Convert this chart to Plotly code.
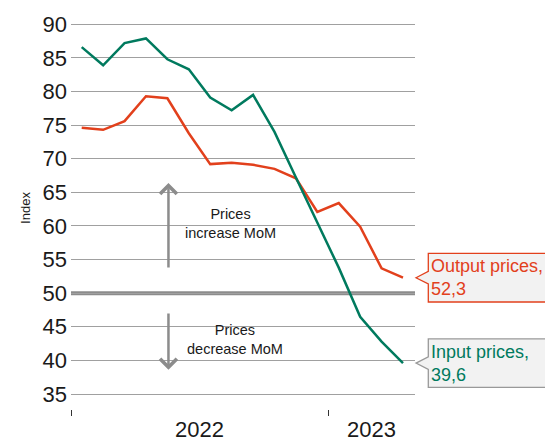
import plotly.graph_objects as go

# monthly index values, Jan 2022 - Apr 2023
months = ["2022-01", "2022-02", "2022-03", "2022-04", "2022-05", "2022-06",
          "2022-07", "2022-08", "2022-09", "2022-10", "2022-11", "2022-12",
          "2023-01", "2023-02", "2023-03", "2023-04"]
input_prices = [86.6, 83.9, 87.2, 87.9, 84.8, 83.3, 79.1, 77.2,
                79.5, 74.0, 67.2, 60.6, 53.8, 46.5, 42.8, 39.6]
output_prices = [74.6, 74.3, 75.6, 79.3, 79.0, 73.8, 69.2, 69.4,
                 69.1, 68.5, 67.1, 62.1, 63.4, 59.9, 53.7, 52.3]
y_ticks = [35, 40, 45, 50, 55, 60, 65, 70, 75, 80, 85, 90]
years = ["2022", "2023"]
threshold = 50

RED = "#e2401c"
GREEN = "#007a5e"
GRAY = "#8c8c8c"
FONT = "Arial, Liberation Sans, sans-serif"

x = list(range(len(months)))
x_min, x_max = -0.5, 15.56
year_bounds = [-0.5, 11.5]

fig = go.Figure()

fig.add_trace(go.Scatter(x=x, y=output_prices, mode="lines",
                         name="Output prices",
                         line=dict(color=RED, width=2.5)))
fig.add_trace(go.Scatter(x=x, y=input_prices, mode="lines",
                         name="Input prices",
                         line=dict(color=GREEN, width=2.5)))

# 50 line
fig.add_shape(type="line", xref="paper", x0=0, x1=1, yref="y",
              y0=threshold, y1=threshold, layer="between",
              line=dict(color=GRAY, width=4))

# arrows + texts
fig.add_annotation(x=4.05, y=66.4, ax=4.05, ay=53.6, axref="x", ayref="y",
                   text="", showarrow=True, arrowhead=4, arrowsize=1.3,
                   arrowwidth=2.5, arrowcolor=GRAY)
fig.add_annotation(x=4.05, y=38.6, ax=4.05, ay=47.2, axref="x", ayref="y",
                   text="", showarrow=True, arrowhead=4, arrowsize=1.3,
                   arrowwidth=2.5, arrowcolor=GRAY)
fig.add_annotation(x=6.96, y=60.4, text="Prices<br>increase MoM",
                   showarrow=False, font=dict(size=14.5, color="#1a1a1a"))
fig.add_annotation(x=7.14, y=43.1, text="Prices<br>decrease MoM",
                   showarrow=False, font=dict(size=14.5, color="#1a1a1a"))

# callout labels at line ends
callout = "M 1,0 L 13.3,6.3 L 13.3,24.3 L 150,24.3 L 150,-24.3 L 13.3,-24.3 L 13.3,-6.3 Z"
for vals, name, col, border in [(output_prices, "Output prices", RED, RED),
                                (input_prices, "Input prices", GREEN, "#999999")]:
    last = vals[-1]
    fig.add_shape(type="path", xref="paper", yref="y",
                  xsizemode="pixel", ysizemode="pixel",
                  xanchor=1, yanchor=last, path=callout,
                  fillcolor="#f2f2f2", line=dict(color=border, width=1.3),
                  layer="above")
    fig.add_annotation(xref="paper", x=1, yref="y", y=last,
                       xanchor="left", yanchor="middle", xshift=14,
                       align="left", showarrow=False,
                       text=f"{name},<br>{str(last).replace('.', ',')}",
                       font=dict(size=18, color=col))

# year labels centred in their visible span
spans = [(year_bounds[0], year_bounds[1]), (year_bounds[1], x_max)]
for yr, (a, b) in zip(years, spans):
    fig.add_annotation(x=(a + b) / 2, xref="x", y=-0.052, yref="paper",
                       xanchor="center", yanchor="middle",
                       text=yr, showarrow=False,
                       font=dict(size=22, color="#1a1a1a"))

fig.add_annotation(xref="paper", x=-0.134, yref="paper", y=0.505,
                   xanchor="center", yanchor="middle",
                   text="Index", textangle=-90, showarrow=False,
                   font=dict(size=13, color="#1a1a1a"))

fig.update_xaxes(range=[x_min, x_max], tickvals=year_bounds,
                 ticktext=["", ""], ticks="outside", ticklen=6,
                 tickcolor="#333333", showgrid=False, zeroline=False,
                 showline=False)
fig.update_yaxes(range=[32.77, 91.98], tickvals=y_ticks,
                 showgrid=True, gridcolor="#a0a0a0", gridwidth=1.3,
                 zeroline=False, showline=False, ticks="",
                 ticklabelstandoff=3,
                 tickfont=dict(size=22, color="#1a1a1a"))

# page body has an 8px margin, so the figure is 8px smaller than the window
fig.update_layout(width=545, height=434,
                  margin=dict(l=63, r=138, t=3, b=33),
                  plot_bgcolor="white", paper_bgcolor="white",
                  showlegend=False, font=dict(family=FONT))

fig.write_html("out.html")
